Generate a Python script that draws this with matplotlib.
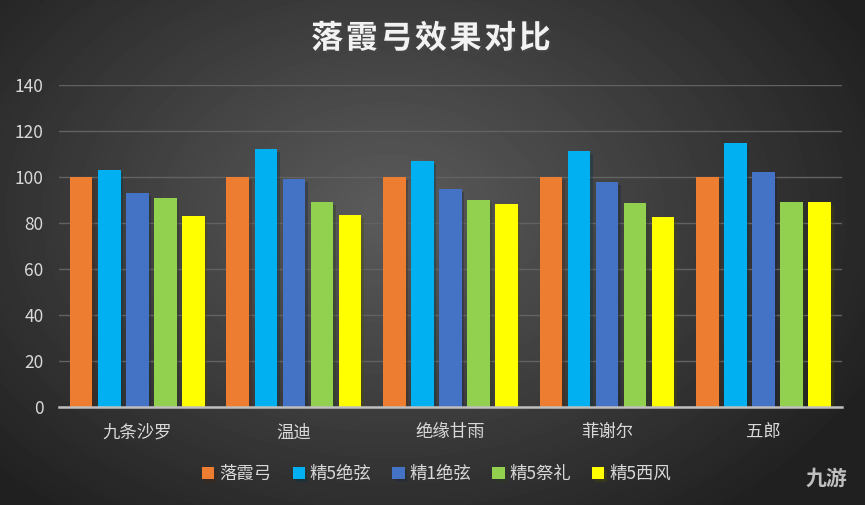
import numpy as np
import matplotlib.pyplot as plt
import matplotlib.patheffects as pe

plt.rcParams['font.family'] = ['Noto Sans CJK SC', 'DejaVu Sans']

categories = ['九条沙罗', '温迪', '绝缘甘雨', '菲谢尔', '五郎']
series = ['落霞弓', '精5绝弦', '精1绝弦', '精5祭礼', '精5西风']
colors = ['#ed7d31', '#00b0f0', '#4472c4', '#92d050', '#ffff00']
values = [
    [100, 100, 100, 100, 100],
    [103, 112.3, 107, 111.4, 114.9],
    [93, 99.2, 94.8, 97.9, 102.2],
    [91, 89.2, 90, 88.7, 89.2],
    [83, 83.5, 88.3, 82.6, 89.2],
]
yticks = [0, 20, 40, 60, 80, 100, 120, 140]
title = '落霞弓效果对比'

W, H = 865, 505
fig = plt.figure(figsize=(W / 100, H / 100), dpi=100)

# radial gradient background
bg = fig.add_axes([0, 0, 1, 1])
yy, xx = np.mgrid[0:H, 0:W]
r = np.sqrt(((xx - 0.45 * W) / (0.62 * W)) ** 2 + ((yy - 0.42 * H) / (0.75 * H)) ** 2)
shade = np.clip(0.36 - 0.23 * r, 0.13, 0.36)
bg.imshow(shade, cmap='gray', vmin=0, vmax=1, aspect='auto', extent=[0, 1, 0, 1])
bg.set_axis_off()

ax = fig.add_axes([59 / W, 1 - 406.7 / H, (841.7 - 59) / W, (406.7 - 85.3) / H])
ax.patch.set_alpha(0)

x = np.arange(len(categories))
step = 0.179
width = 0.144
shadow = [pe.SimplePatchShadow(offset=(2, -2), alpha=0.35), pe.Normal()]
for i, (name, col, vals) in enumerate(zip(series, colors, values)):
    bars = ax.bar(x + (i - 2) * step, vals, width, color=col, label=name, zorder=3)
    for b in bars:
        b.set_path_effects(shadow)

ax.set_xlim(-0.5, len(categories) - 0.5)
ax.set_ylim(0, 140)
ax.set_yticks(yticks)
ax.set_xticks(x)
ax.set_xticklabels(categories)
ax.yaxis.grid(True, color='#626262', linewidth=1, zorder=0)
for s in ['top', 'right', 'left']:
    ax.spines[s].set_visible(False)
ax.spines['bottom'].set_color('#bfbfbf')
ax.spines['bottom'].set_linewidth(1.8)
ax.spines['bottom'].set_zorder(4)
ax.tick_params(axis='both', length=0, colors='#d9d9d9', labelsize=12.5)
ax.tick_params(axis='x', pad=12)
ax.tick_params(axis='y', pad=11)

# title with wide letter spacing
cx, gap = 431, 34.6
for k, ch in enumerate(title):
    px = cx + (k - (len(title) - 1) / 2) * gap
    fig.text(px / W, 1 - 39 / H, ch, ha='center', va='center', color='#f2f2f2',
             fontsize=23, fontweight='bold',
             path_effects=[pe.withSimplePatchShadow(offset=(1.5, -1.5), alpha=0.6)])

leg = fig.legend(loc='center', bbox_to_anchor=(0.505, 1 - 474 / H), ncol=5, frameon=False,
                 fontsize=12.5, handlelength=0.7, handleheight=0.7, handletextpad=0.3,
                 columnspacing=1.2)
for t in leg.get_texts():
    t.set_color('#d9d9d9')

fig.text(0.955, 1 - 478 / H, '九游', ha='center', va='center', color='#bfbfbf',
         fontsize=15, fontweight='bold', style='italic')

fig.savefig('out.png', dpi=100)
